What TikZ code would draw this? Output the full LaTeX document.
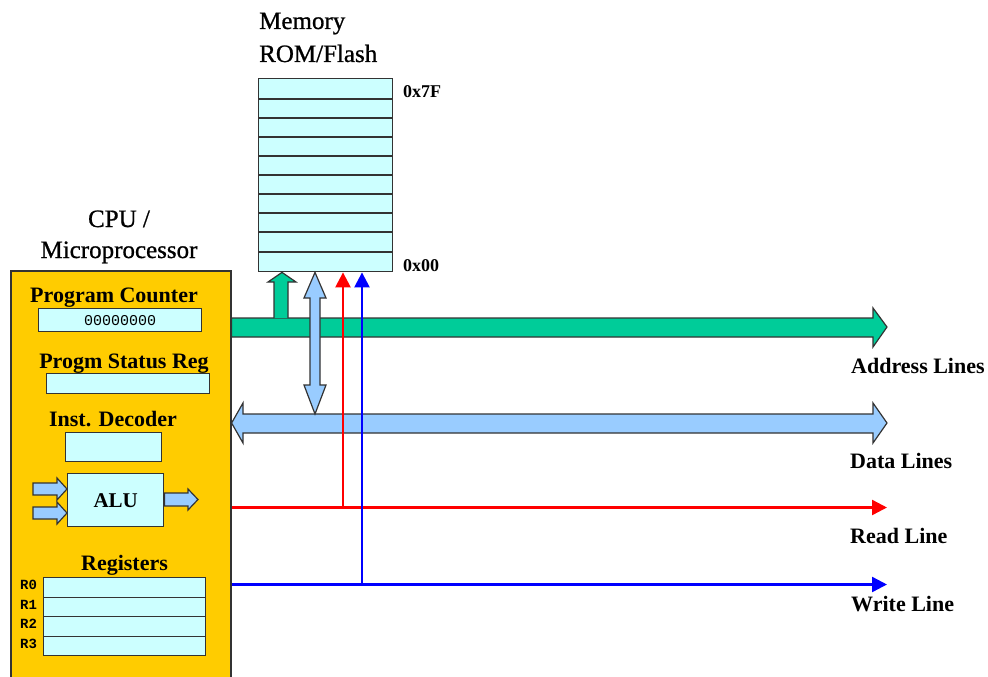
\documentclass[tikz,border=0pt]{standalone}
\usepackage{fontspec}
\setmainfont{Liberation Serif}
\setmonofont{Liberation Mono}
\newfontfamily\titlefont[FakeBold=0.8]{Liberation Serif}
\usetikzlibrary{arrows.meta}
\definecolor{cpuyellow}{HTML}{FFCC00}
\definecolor{cellcyan}{HTML}{CCFFFF}
\definecolor{busgreen}{HTML}{00CC99}
\definecolor{busblue}{HTML}{99CCFF}
\definecolor{edgecol}{HTML}{333333}
\begin{document}
\begin{tikzpicture}[x=1pt,y=-1pt,
  cell/.style={draw=edgecol, fill=cellcyan, line width=1.4pt, inner sep=0pt, anchor=north west},
  lbl/.style={font=\bfseries\fontsize{22}{24}\selectfont, inner sep=0pt, anchor=base},
  linelbl/.style={font=\bfseries\fontsize{22}{24}\selectfont, inner sep=0pt, anchor=base west},
  title/.style={font=\titlefont\fontsize{25}{28}\selectfont, inner sep=0pt, anchor=base},
  addr/.style={font=\bfseries\fontsize{18}{20}\selectfont, inner sep=0pt, anchor=base west},
  reglbl/.style={font=\ttfamily\bfseries\fontsize{14}{16}\selectfont, inner sep=0pt, anchor=mid west},
  bus/.style={draw=edgecol, line width=1.2pt, line join=miter},
  sigline/.style={line width=2.4pt, -{Triangle[length=15pt,width=15pt]}}
]
\clip (0,0) rectangle (988,677);
\fill[white] (0,0) rectangle (988,677);

% CPU block
\node[draw=edgecol, fill=cpuyellow, line width=1.6pt, inner sep=0pt, anchor=north west,
      minimum width=220pt, minimum height=440pt] (cpu) at (10,270) {};
\node[title] (cputitle) at (119,227) {CPU /};
\node[title] (cputitle2) at (119,258) {Microprocessor};

\node[lbl] (pclbl) at (114,302) {Program Counter};
\node[cell, minimum width=163pt, minimum height=23pt] (pc) at (38,308) {};
\node[font=\ttfamily\fontsize{15}{17}\selectfont, inner sep=0pt] (pcval) at (pc.center) {00000000};

\node[lbl] (psrlbl) at (124,368) {Progm Status Reg};
\node[cell, minimum width=163pt, minimum height=20pt] (psr) at (46,373) {};

\node[lbl] (idlbl) at (113,426) {Inst. Decoder};
\node[cell, minimum width=96pt, minimum height=29pt] (id) at (65,432) {};

\node[cell, minimum width=96pt, minimum height=53pt, font=\bfseries\fontsize{21}{23}\selectfont] (alu) at (67,473) {ALU};

% ALU arrows
\foreach \yc in {489,513}{
  \filldraw[fill=busblue, bus] (33,\yc-6) -- (57,\yc-6) -- (57,\yc-11) -- (alu.west |- 0,\yc) -- (57,\yc+11) -- (57,\yc+6) -- (33,\yc+6) -- cycle;
}
\coordinate (aluout) at (198,499.5);
\filldraw[fill=busblue, bus] (alu.east |- 0,493) -- (188,493) -- (188,489) -- (aluout) -- (188,510) -- (188,506) -- (alu.east |- 0,506) -- cycle;

\node[lbl] (reglbl) at (124.5,570) {Registers};
\node[cell, minimum width=162pt, minimum height=19.5pt] (r0) at (43,577) {};
\node[cell, minimum width=162pt, minimum height=19.5pt] (r1) at (43,596.5) {};
\node[cell, minimum width=162pt, minimum height=19.5pt] (r2) at (43,616) {};
\node[cell, minimum width=162pt, minimum height=19.5pt] (r3) at (43,635.5) {};
\node[reglbl] (r0l) at (20,0 |- r0.center) {R0};
\node[reglbl] (r1l) at (20,0 |- r1.center) {R1};
\node[reglbl] (r2l) at (20,0 |- r2.center) {R2};
\node[reglbl] (r3l) at (20,0 |- r3.center) {R3};

% Memory
\node[font=\titlefont\fontsize{25}{28}\selectfont, inner sep=0pt, anchor=base west] (memt1) at (259,29) {Memory};
\node[font=\titlefont\fontsize{25}{28}\selectfont, inner sep=0pt, anchor=base west] (memt2) at (259,62) {ROM/Flash};
\node[cell, minimum width=134pt, minimum height=193pt] (mem) at (258,78) {};
\foreach \yy in {99,118,137,156,175,194,213,232,252}{
  \draw[edgecol, line width=1.4pt] (mem.west |- 0,\yy) -- (mem.east |- 0,\yy);
}
\node[addr] (top) at (403,97) {0x7F};
\node[addr] (bot) at (403,271) {0x00};

% Address bus
\coordinate (addrtip) at (887,327);
\filldraw[fill=busgreen, bus] (cpu.east |- 0,318) -- (873,318) -- (873,308) -- (addrtip) -- (873,347) -- (873,337) -- (cpu.east |- 0,337) -- cycle;
\filldraw[fill=busgreen, bus] (274,318) -- (274,282) -- (268,282) -- (mem.south -| 282,0) -- (296,282) -- (288,282) -- (288,318);

% Data bus
\coordinate (datatip) at (887,423);
\filldraw[fill=busblue, bus] (cpu.east |- 0,423) -- (243,403) -- (243,414) -- (873,414) -- (873,403) -- (datatip) -- (873,443) -- (873,433) -- (243,433) -- (243,443) -- cycle;
\filldraw[fill=busblue, bus] (mem.south -| 315,0) -- (326,298) -- (320,298) -- (320,385) -- (326,385) -- (315,414) -- (304,385) -- (310,385) -- (310,298) -- (304,298) -- cycle;

% Read / Write lines
\coordinate (readtip) at (887,507.5);
\coordinate (writetip) at (887,584.5);
\draw[sigline, red] (cpu.east |- readtip) -- (readtip);
\draw[sigline, red] (343,507.5) -- (mem.south -| 343,0);
\draw[sigline, blue] (cpu.east |- writetip) -- (writetip);
\draw[sigline, blue] (362,584.5) -- (mem.south -| 362,0);

\node[linelbl] (al) at (851,373) {Address Lines};
\node[linelbl] (dl) at (850,468) {Data Lines};
\node[linelbl] (rl) at (850,543) {Read Line};
\node[linelbl] (wl) at (851,611) {Write Line};
\end{tikzpicture}
\end{document}
